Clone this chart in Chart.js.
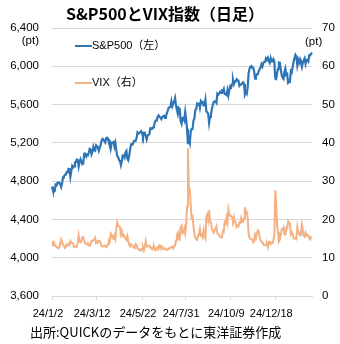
<!DOCTYPE html>
<html>
<head>
<meta charset="utf-8">
<script src="https://cdn.jsdelivr.net/npm/chart.js@4/dist/chart.umd.min.js"></script>
<style>
  html, body { margin: 0; padding: 0; background: #fff; }
  #wrap { width: 340px; height: 344px; position: relative; }
</style>
</head>
<body>
<div id="wrap"><canvas id="chart1"></canvas></div>
<script>
// US trading days, 2024/1/2 - 2025/2/19
const dates = [
  '24/1/2','24/1/3','24/1/4','24/1/5','24/1/8','24/1/9','24/1/10','24/1/11','24/1/12','24/1/16','24/1/17','24/1/18','24/1/19','24/1/22','24/1/23','24/1/24','24/1/25','24/1/26','24/1/29','24/1/30','24/1/31',
  '24/2/1','24/2/2','24/2/5','24/2/6','24/2/7','24/2/8','24/2/9','24/2/12','24/2/13','24/2/14','24/2/15','24/2/16','24/2/20','24/2/21','24/2/22','24/2/23','24/2/26','24/2/27','24/2/28','24/2/29',
  '24/3/1','24/3/4','24/3/5','24/3/6','24/3/7','24/3/8','24/3/11','24/3/12','24/3/13','24/3/14','24/3/15','24/3/18','24/3/19','24/3/20','24/3/21','24/3/22','24/3/25','24/3/26','24/3/27','24/3/28',
  '24/4/1','24/4/2','24/4/3','24/4/4','24/4/5','24/4/8','24/4/9','24/4/10','24/4/11','24/4/12','24/4/15','24/4/16','24/4/17','24/4/18','24/4/19','24/4/22','24/4/23','24/4/24','24/4/25','24/4/26','24/4/29','24/4/30',
  '24/5/1','24/5/2','24/5/3','24/5/6','24/5/7','24/5/8','24/5/9','24/5/10','24/5/13','24/5/14','24/5/15','24/5/16','24/5/17','24/5/20','24/5/21','24/5/22','24/5/23','24/5/24','24/5/28','24/5/29','24/5/30','24/5/31',
  '24/6/3','24/6/4','24/6/5','24/6/6','24/6/7','24/6/10','24/6/11','24/6/12','24/6/13','24/6/14','24/6/17','24/6/18','24/6/20','24/6/21','24/6/24','24/6/25','24/6/26','24/6/27','24/6/28',
  '24/7/1','24/7/2','24/7/3','24/7/5','24/7/8','24/7/9','24/7/10','24/7/11','24/7/12','24/7/15','24/7/16','24/7/17','24/7/18','24/7/19','24/7/22','24/7/23','24/7/24','24/7/25','24/7/26','24/7/29','24/7/30','24/7/31',
  '24/8/1','24/8/2','24/8/5','24/8/6','24/8/7','24/8/8','24/8/9','24/8/12','24/8/13','24/8/14','24/8/15','24/8/16','24/8/19','24/8/20','24/8/21','24/8/22','24/8/23','24/8/26','24/8/27','24/8/28','24/8/29','24/8/30',
  '24/9/3','24/9/4','24/9/5','24/9/6','24/9/9','24/9/10','24/9/11','24/9/12','24/9/13','24/9/16','24/9/17','24/9/18','24/9/19','24/9/20','24/9/23','24/9/24','24/9/25','24/9/26','24/9/27','24/9/30',
  '24/10/1','24/10/2','24/10/3','24/10/4','24/10/7','24/10/8','24/10/9','24/10/10','24/10/11','24/10/14','24/10/15','24/10/16','24/10/17','24/10/18','24/10/21','24/10/22','24/10/23','24/10/24','24/10/25','24/10/28','24/10/29','24/10/30','24/10/31',
  '24/11/1','24/11/4','24/11/5','24/11/6','24/11/7','24/11/8','24/11/11','24/11/12','24/11/13','24/11/14','24/11/15','24/11/18','24/11/19','24/11/20','24/11/21','24/11/22','24/11/25','24/11/26','24/11/27','24/11/29',
  '24/12/2','24/12/3','24/12/4','24/12/5','24/12/6','24/12/9','24/12/10','24/12/11','24/12/12','24/12/13','24/12/16','24/12/17','24/12/18','24/12/19','24/12/20','24/12/23','24/12/24','24/12/26','24/12/27','24/12/30','24/12/31',
  '25/1/2','25/1/3','25/1/6','25/1/7','25/1/8','25/1/10','25/1/13','25/1/14','25/1/15','25/1/16','25/1/17','25/1/21','25/1/22','25/1/23','25/1/24','25/1/27','25/1/28','25/1/29','25/1/30','25/1/31',
  '25/2/3','25/2/4','25/2/5','25/2/6','25/2/7','25/2/10','25/2/11','25/2/12','25/2/13','25/2/14','25/2/18','25/2/19'
];

const sp500 = [
  4742.8,4704.8,4688.7,4697.2,4763.5,4756.5,4783.5,4780.2,4783.8,4766.0,4739.0,4780.9,4839.8,4850.0,4864.6,4868.6,4894.0,4891.0,4927.9,4925.0,4845.7,
  4906.2,4958.6,4942.8,4954.2,4995.1,4997.9,5026.6,5021.8,4953.2,5000.6,5029.7,5005.6,4975.5,4981.8,5087.0,5088.8,5069.5,5078.2,5069.8,5096.3,
  5137.1,5131.0,5078.7,5104.8,5157.4,5123.7,5117.9,5175.3,5165.3,5150.5,5117.1,5149.4,5178.5,5224.6,5241.5,5234.2,5218.2,5203.6,5248.5,5254.4,
  5243.8,5205.8,5211.5,5147.2,5204.3,5202.4,5209.9,5160.6,5199.1,5123.4,5061.8,5051.4,5022.2,5011.1,4967.2,5010.6,5070.6,5071.6,5048.4,5100.0,5116.2,5035.7,
  5018.4,5064.2,5127.8,5180.7,5187.7,5187.2,5214.1,5222.7,5221.4,5246.7,5308.2,5297.1,5303.3,5308.1,5321.4,5307.0,5267.8,5304.7,5306.0,5267.0,5235.5,5277.5,
  5283.4,5291.3,5354.0,5353.0,5347.0,5360.8,5375.3,5421.0,5433.7,5431.6,5473.2,5487.0,5473.2,5464.6,5447.9,5469.3,5477.9,5482.9,5460.5,
  5475.1,5509.0,5537.0,5567.2,5572.9,5577.0,5633.9,5584.5,5615.4,5631.2,5667.2,5588.3,5544.6,5505.0,5564.4,5555.7,5427.1,5399.2,5459.1,5463.5,5436.4,5522.3,
  5446.7,5346.6,5186.3,5240.0,5199.5,5319.3,5344.2,5344.4,5434.4,5455.2,5543.2,5554.3,5608.3,5597.1,5620.9,5570.6,5634.6,5616.8,5625.8,5592.2,5592.0,5648.4,
  5528.9,5520.1,5503.4,5408.4,5471.1,5495.5,5554.1,5595.8,5626.0,5633.1,5634.6,5618.3,5713.6,5702.6,5718.6,5732.9,5722.3,5745.4,5738.2,5762.5,
  5708.8,5709.5,5699.9,5751.1,5695.9,5751.1,5792.0,5780.0,5815.0,5859.9,5815.3,5842.5,5841.5,5864.7,5854.0,5851.2,5797.4,5809.9,5808.1,5823.5,5832.9,5813.7,5705.5,
  5728.8,5712.7,5782.8,5929.0,5973.1,5995.5,6001.4,5984.0,5985.4,5949.2,5870.6,5893.6,5917.0,5917.1,5948.7,5969.3,5987.4,6021.6,5998.7,6032.4,
  6047.2,6049.9,6086.5,6075.1,6090.3,6052.9,6034.9,6084.2,6051.1,6051.1,6074.1,6050.6,5872.2,5867.1,5930.9,5974.1,6040.0,6037.6,5970.8,5906.9,5881.6,
  5868.6,5942.5,5975.4,5909.0,5918.3,5827.0,5836.2,5842.9,5949.9,5937.3,5996.7,6049.2,6086.4,6118.7,6101.2,6012.3,6067.7,6039.3,6071.2,6040.5,
  5994.6,6037.9,6061.5,6083.6,6026.0,6066.4,6068.5,6052.0,6115.1,6114.6,6129.6,6144.2
];

const vix = [
  13.20,14.04,14.13,13.35,13.08,12.76,12.69,12.44,12.70,13.84,14.79,14.13,13.30,13.19,12.55,12.81,13.45,13.26,13.60,13.31,14.35,
  13.88,13.85,13.67,12.93,12.83,12.79,12.93,13.93,15.85,14.38,14.01,14.24,15.42,15.34,14.54,13.75,13.74,13.43,13.84,13.40,
  13.11,13.49,14.46,14.50,14.44,14.74,15.23,13.75,13.88,14.40,14.41,14.33,13.82,13.04,12.92,13.06,13.19,12.98,12.78,13.01,
  13.65,14.61,14.33,16.35,16.03,15.19,14.98,15.80,14.91,17.31,19.23,18.40,18.21,18.00,16.14,16.94,15.69,15.97,15.37,15.03,14.67,15.65,
  14.32,13.49,12.98,13.49,13.23,13.00,12.69,12.55,13.60,13.42,12.45,12.42,11.99,12.15,11.86,12.29,12.77,11.93,12.92,14.28,12.91,12.92,
  13.11,13.16,12.63,12.58,12.22,12.74,12.85,12.04,11.94,12.66,12.75,12.30,13.28,13.20,12.33,12.84,12.55,12.24,12.44,
  12.22,12.03,12.09,12.48,12.37,12.51,12.85,12.91,12.46,13.12,13.19,14.48,15.93,16.52,14.91,14.72,18.04,18.46,16.39,16.60,17.69,16.36,
  18.59,23.39,38.57,27.71,27.85,23.79,20.37,20.71,18.12,16.19,15.23,14.80,14.65,15.88,16.27,17.55,15.86,16.15,15.43,17.11,15.65,15.00,
  20.72,21.32,19.90,22.38,19.45,19.08,17.69,17.07,16.56,17.14,17.61,18.23,16.33,16.15,15.89,15.39,15.41,15.37,16.96,16.73,
  19.26,18.90,20.49,19.21,22.64,21.42,20.86,20.93,20.46,19.70,20.64,19.58,19.11,18.03,18.37,18.20,19.24,19.08,20.33,19.34,19.46,20.35,23.16,
  21.88,21.98,20.49,16.27,15.20,14.94,14.97,14.71,14.02,14.31,16.14,15.58,16.35,17.16,16.87,15.24,14.60,14.10,14.10,13.51,
  13.34,13.30,13.45,13.54,12.77,14.19,14.18,13.58,13.92,13.81,14.69,15.87,27.62,24.09,18.36,16.78,14.27,14.73,15.95,17.40,17.35,
  17.93,16.13,16.04,17.82,17.70,19.54,19.19,18.71,16.12,16.60,15.97,15.06,15.10,15.02,14.85,17.90,16.41,16.56,15.84,16.43,
  18.62,17.21,15.77,15.50,16.54,15.81,16.02,15.89,15.10,14.77,15.35,15.27
];

// dates shown on the x axis
const tickDates = ['24/1/2', '24/3/12', '24/5/22', '24/7/31', '24/10/9', '24/12/18'];

const titleText = 'S&P500とVIX指数（日足）';
const sourceText = '出所:QUICKのデータをもとに東洋証券作成';
const seriesNames = ['S&P500（左）', 'VIX（右）'];
const seriesColors = ['#2e75b6', '#f4b183'];

const latin = '"Liberation Sans", "Noto Sans CJK JP", sans-serif';
const jp = '"Noto Sans CJK JP", sans-serif';

// title, unit labels, legend and source note
const extras = {
  id: 'extras',
  afterDraw(chart) {
    const { ctx, chartArea: a } = chart;
    ctx.save();
    ctx.fillStyle = '#000';
    ctx.textBaseline = 'middle';

    ctx.font = 'bold 16px ' + jp;
    ctx.textAlign = 'center';
    ctx.fillText(titleText, 165, 14);

    ctx.font = '11.5px ' + latin;
    ctx.textAlign = 'right';
    ctx.fillText('(pt)', 39, 41);
    ctx.textAlign = 'left';
    ctx.fillText('(pt)', 305, 42);

    // legend inside the plot
    ctx.font = '11px ' + latin;
    seriesNames.forEach((name, i) => {
      const y = a.top + 18 + i * 37;
      ctx.strokeStyle = seriesColors[i];
      ctx.lineWidth = 2;
      ctx.beginPath();
      ctx.moveTo(a.left + 23, y);
      ctx.lineTo(a.left + 40, y);
      ctx.stroke();
      ctx.fillText(name, a.left + 40, y);
    });

    ctx.font = '13px ' + jp;
    ctx.textAlign = 'left';
    ctx.fillText(sourceText, 30, 332);
    ctx.restore();
  }
};

const ctx = document.getElementById('chart1').getContext('2d');

const myChart = new Chart(ctx, {
  type: 'line',
  data: {
    labels: dates,
    datasets: [
      {
        label: seriesNames[0],
        data: sp500,
        yAxisID: 'y',
        borderColor: seriesColors[0],
        borderWidth: 2.2,
        pointRadius: 0,
        tension: 0,
        order: 1
      },
      {
        label: seriesNames[1],
        data: vix,
        yAxisID: 'y1',
        borderColor: seriesColors[1],
        borderWidth: 2,
        pointRadius: 0,
        tension: 0,
        order: 2
      }
    ]
  },
  options: {
    responsive: true,
    maintainAspectRatio: false,
    animation: false,
    layout: {
      padding: { top: 28, left: 0, right: 0, bottom: 0 }
    },
    plugins: {
      legend: { display: false },
      title: { display: false },
      tooltip: { enabled: false }
    },
    scales: {
      x: {
        type: 'category',
        offset: false,
        afterBuildTicks: (s) => {
          s.ticks = s.ticks.filter((t) => tickDates.includes(dates[t.value]));
        },
        afterFit: (s) => { s.height = 48; },
        grid: {
          display: true,
          drawOnChartArea: false,
          drawTicks: true,
          tickLength: 4,
          color: '#d9d9d9'
        },
        border: { display: true, color: '#d9d9d9' },
        ticks: {
          autoSkip: false,
          maxRotation: 0,
          minRotation: 0,
          labelOffset: -4,
          padding: 7,
          color: '#000',
          font: { family: latin, size: 11 }
        }
      },
      y: {
        position: 'left',
        min: 3600,
        max: 6400,
        afterFit: (s) => { s.width = 52; },
        grid: { color: '#d9d9d9', drawTicks: false },
        border: { display: false },
        ticks: {
          stepSize: 400,
          padding: 13,
          color: '#000',
          font: { family: latin, size: 11.5 },
          callback: (v) => v.toLocaleString('en-US')
        }
      },
      y1: {
        position: 'right',
        min: 0,
        max: 70,
        afterFit: (s) => { s.width = 28; },
        grid: { display: false, drawTicks: false },
        border: { display: false },
        ticks: {
          stepSize: 10,
          padding: 10,
          color: '#000',
          font: { family: latin, size: 11.5 }
        }
      }
    }
  },
  plugins: [extras]
});
</script>
</body>
</html>
